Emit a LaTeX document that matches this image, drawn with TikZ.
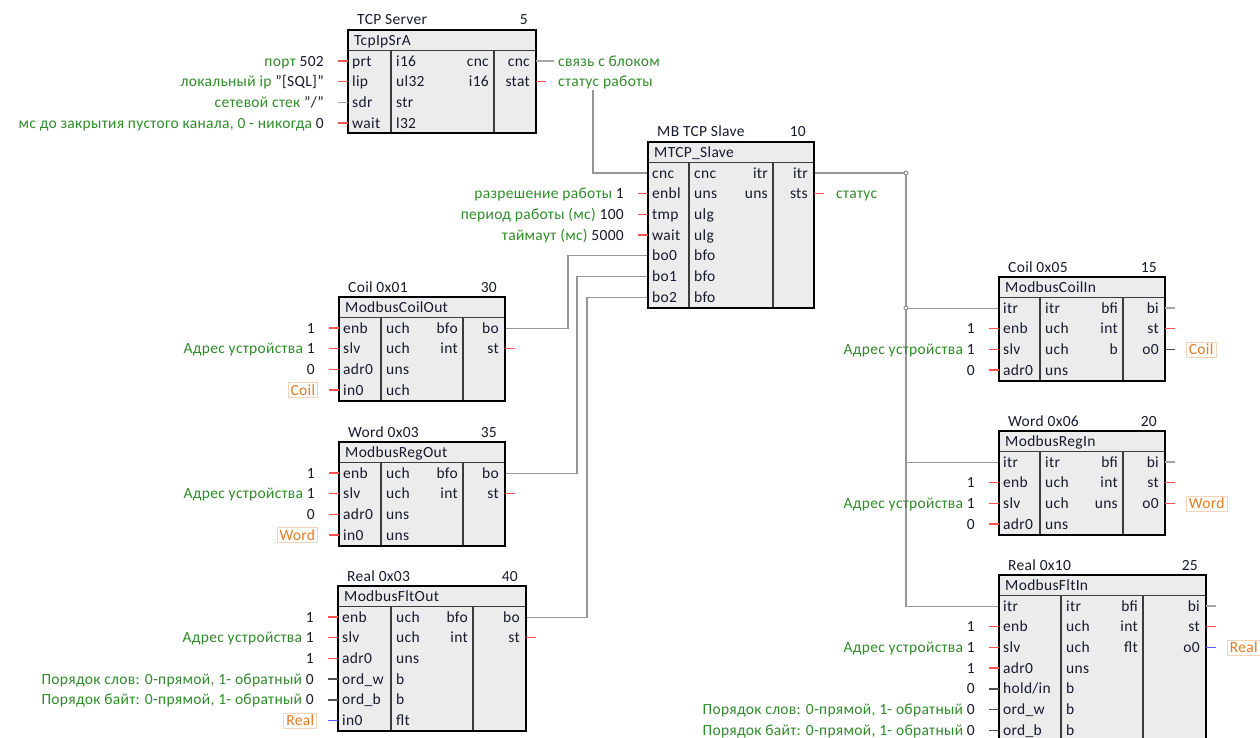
\documentclass[tikz,border=0pt]{standalone}
\usepackage{fontspec}
\setmainfont{Carlito}[LetterSpace=2]
\pgfdeclarelayer{bg}
\pgfsetlayers{bg,main}
\definecolor{lblgreen}{RGB}{46,140,40}
\definecolor{valc}{RGB}{25,25,45}
\definecolor{orng}{RGB}{226,122,32}
\definecolor{orngb}{RGB}{244,212,184}
\definecolor{stubred}{RGB}{255,80,80}
\definecolor{stubgray}{RGB}{165,165,165}
\definecolor{stubdark}{RGB}{80,80,80}
\definecolor{stubblue}{RGB}{90,90,255}
\definecolor{wirec}{RGB}{150,150,150}
\definecolor{blkbg}{RGB}{236,236,236}
\definecolor{divc}{RGB}{60,60,60}
\newcommand\gr[1]{\textcolor{lblgreen}{#1}}
% block: name, left, top, div1, div2, right, nrows
\newcommand\fbk[7]{%
  \def\bN{#1}\def\bL{#2}\def\bT{#3}\def\bA{#4}\def\bB{#5}\def\bR{#6}%
  \pgfmathsetmacro\bY{#3+20.7*(#7+1)}%
  \pgfmathsetmacro\bH{#3+20.7}%
  \fill[blkfill] (#2,#3) rectangle (#6,\bY);
  \draw[divl] (#2,\bH) -- (#6,\bH) (#4,\bH) -- (#4,\bY) (#5,\bH) -- (#5,\bY);
  \draw[blkborder] (#2,#3) rectangle (#6,\bY);
}
\newcommand\ftitle[3]{%
  \node[txt,anchor=west] (\bN-t) at (\bL+9,\bT-10) {#1};
  \node[txt,anchor=east] (\bN-n) at (\bR-8,\bT-10) {#2};
  \node[txt,anchor=west] (\bN-h) at (\bL+6,\bT+10.35) {#3};
}
\newcommand\frow[5]{%
  \pgfmathsetmacro\rY{\bT+20.7*(#1+0.5)}%
  \coordinate (\bN-i#1) at (\bL,\rY);
  \coordinate (\bN-o#1) at (\bR,\rY);
  \node[txt,anchor=west] (\bN-a#1) at (\bL+4,\rY) {#2};
  \node[txt,anchor=west] (\bN-b#1) at (\bA+5,\rY) {#3};
  \node[txt,anchor=east] (\bN-c#1) at (\bB-5,\rY) {#4};
  \node[txt,anchor=east] (\bN-d#1) at (\bR-6,\rY) {#5};
}
\newcommand\lin[3]{%
  \draw[#2] (#1) -- ([xshift=-10pt]#1);
  \node[txt,anchor=east] (#1-l) at ([xshift=-24pt]#1) {#3};
}
\newcommand\rout[3]{%
  \draw[#2] (#1) -- ([xshift=10pt]#1);
  \node[txt,anchor=west] (#1-l) at ([xshift=22pt]#1) {#3};
}
\newcommand\lobox[3]{%
  \draw[#2] (#1) -- ([xshift=-10pt]#1);
  \node[obox,anchor=east] (#1-l) at ([xshift=-21pt]#1) {#3};
}
\newcommand\robox[3]{%
  \draw[#2] (#1) -- ([xshift=10pt]#1);
  \node[obox,anchor=west] (#1-l) at ([xshift=21pt]#1) {#3};
}
\begin{document}
\begin{tikzpicture}[x=1pt,y=-1pt,
  txt/.style={font=\fontsize{15.5}{18}\selectfont, text=valc, inner sep=0pt, text height=10pt, text depth=0pt},
  obox/.style={txt, text=orng, draw=orngb, line width=0.8pt, inner xsep=2.5pt, inner ysep=2.5pt},
  blkfill/.style={fill=blkbg},
  divl/.style={draw=divc, line width=1.1pt},
  blkborder/.style={draw=black, line width=2pt},
  wire/.style={draw=wirec, line width=1.1pt},
  rst/.style={draw=stubred, line width=1.4pt},
  gst/.style={draw=stubgray, line width=1.4pt},
  dst/.style={draw=stubdark, line width=1.4pt},
  bst/.style={draw=stubblue, line width=1.4pt},
  jn/.style={draw=wirec, fill=white, line width=1pt}]
\path[use as bounding box, clip] (0,0) rectangle (1260,738);

% TCP Server
\fbk{tcp}{348}{30}{391}{494}{536}{4}
\ftitle{TCP Server}{5}{TcpIpSrA}
\frow{1}{prt}{i16}{cnc}{cnc}
\frow{2}{lip}{ul32}{i16}{stat}
\frow{3}{sdr}{str}{}{}
\frow{4}{wait}{l32}{}{}
\lin{tcp-i1}{rst}{\gr{порт} 502}
\lin{tcp-i2}{rst}{\gr{локальный ip} "[SQL]"}
\lin{tcp-i3}{gst}{\gr{сетевой стек} "/"}
\lin{tcp-i4}{rst}{\gr{мс до закрытия пустого канала, 0 - никогда} 0}
\draw[gst] (tcp-o1) -- ([xshift=18pt]tcp-o1);
\node[txt,anchor=west] (tcp-o1-l) at ([xshift=22pt]tcp-o1) {\gr{связь с блоком}};
\rout{tcp-o2}{rst}{\gr{статус работы}}

% MB TCP Slave
\fbk{mt}{648}{142}{689}{773}{814}{7}
\ftitle{MB TCP Slave}{10}{MTCP\_Slave}
\frow{1}{cnc}{cnc}{itr}{itr}
\frow{2}{enbl}{uns}{uns}{sts}
\frow{3}{tmp}{ulg}{}{}
\frow{4}{wait}{ulg}{}{}
\frow{5}{bo0}{bfo}{}{}
\frow{6}{bo1}{bfo}{}{}
\frow{7}{bo2}{bfo}{}{}
\lin{mt-i2}{rst}{\gr{разрешение работы} 1}
\lin{mt-i3}{rst}{\gr{период работы (мс)} 100}
\lin{mt-i4}{rst}{\gr{таймаут (мс)} 5000}
\rout{mt-o2}{rst}{\gr{статус}}

% ModbusCoilOut
\fbk{co}{339}{297}{381}{463}{505}{4}
\ftitle{Coil 0x01}{30}{ModbusCoilOut}
\frow{1}{enb}{uch}{bfo}{bo}
\frow{2}{slv}{uch}{int}{st}
\frow{3}{adr0}{uns}{}{}
\frow{4}{in0}{uch}{}{}
\lin{co-i1}{rst}{1}
\lin{co-i2}{rst}{\gr{Адрес устройства} 1}
\lin{co-i3}{rst}{0}
\lobox{co-i4}{rst}{Coil}
\draw[rst] (co-o2) -- ([xshift=10pt]co-o2);

% ModbusRegOut
\fbk{ro}{339}{442}{381}{463}{505}{4}
\ftitle{Word 0x03}{35}{ModbusRegOut}
\frow{1}{enb}{uch}{bfo}{bo}
\frow{2}{slv}{uch}{int}{st}
\frow{3}{adr0}{uns}{}{}
\frow{4}{in0}{uns}{}{}
\lin{ro-i1}{rst}{1}
\lin{ro-i2}{rst}{\gr{Адрес устройства} 1}
\lin{ro-i3}{rst}{0}
\lobox{ro-i4}{rst}{Word}
\draw[rst] (ro-o2) -- ([xshift=10pt]ro-o2);

% ModbusFltOut
\fbk{fo}{338}{586}{391}{473}{526}{6}
\ftitle{Real 0x03}{40}{ModbusFltOut}
\frow{1}{enb}{uch}{bfo}{bo}
\frow{2}{slv}{uch}{int}{st}
\frow{3}{adr0}{uns}{}{}
\frow{4}{ord\_w}{b}{}{}
\frow{5}{ord\_b}{b}{}{}
\frow{6}{in0}{flt}{}{}
\lin{fo-i1}{rst}{1}
\lin{fo-i2}{rst}{\gr{Адрес устройства} 1}
\lin{fo-i3}{rst}{1}
\lin{fo-i4}{dst}{\gr{Порядок слов: 0-прямой, 1- обратный} 0}
\lin{fo-i5}{dst}{\gr{Порядок байт: 0-прямой, 1- обратный} 0}
\lobox{fo-i6}{bst}{Real}
\draw[rst] (fo-o2) -- ([xshift=10pt]fo-o2);

% ModbusCoilIn
\fbk{ci}{999}{277}{1040}{1123}{1165}{4}
\ftitle{Coil 0x05}{15}{ModbusCoilIn}
\frow{1}{itr}{itr}{bfi}{bi}
\frow{2}{enb}{uch}{int}{st}
\frow{3}{slv}{uch}{b}{o0}
\frow{4}{adr0}{uns}{}{}
\lin{ci-i2}{rst}{1}
\lin{ci-i3}{rst}{\gr{Адрес устройства} 1}
\lin{ci-i4}{rst}{0}
\draw[gst] (ci-o1) -- ([xshift=10pt]ci-o1);
\draw[rst] (ci-o2) -- ([xshift=10pt]ci-o2);
\robox{ci-o3}{dst}{Coil}

% ModbusRegIn
\fbk{ri}{999}{431}{1040}{1123}{1165}{4}
\ftitle{Word 0x06}{20}{ModbusRegIn}
\frow{1}{itr}{itr}{bfi}{bi}
\frow{2}{enb}{uch}{int}{st}
\frow{3}{slv}{uch}{uns}{o0}
\frow{4}{adr0}{uns}{}{}
\lin{ri-i2}{rst}{1}
\lin{ri-i3}{rst}{\gr{Адрес устройства} 1}
\lin{ri-i4}{rst}{0}
\draw[gst] (ri-o1) -- ([xshift=10pt]ri-o1);
\draw[rst] (ri-o2) -- ([xshift=10pt]ri-o2);
\robox{ri-o3}{rst}{Word}

% ModbusFltIn
\fbk{fi}{999}{575}{1061}{1143}{1206}{8}
\ftitle{Real 0x10}{25}{ModbusFltIn}
\frow{1}{itr}{itr}{bfi}{bi}
\frow{2}{enb}{uch}{int}{st}
\frow{3}{slv}{uch}{flt}{o0}
\frow{4}{adr0}{uns}{}{}
\frow{5}{hold/in}{b}{}{}
\frow{6}{ord\_w}{b}{}{}
\frow{7}{ord\_b}{b}{}{}
\lin{fi-i2}{rst}{1}
\lin{fi-i3}{rst}{\gr{Адрес устройства} 1}
\lin{fi-i4}{rst}{1}
\lin{fi-i5}{dst}{0}
\lin{fi-i6}{dst}{\gr{Порядок слов: 0-прямой, 1- обратный} 0}
\lin{fi-i7}{dst}{\gr{Порядок байт: 0-прямой, 1- обратный} 0}
\draw[gst] (fi-o1) -- ([xshift=10pt]fi-o1);
\draw[rst] (fi-o2) -- ([xshift=10pt]fi-o2);
\robox{fi-o3}{bst}{Real}

% wires
\begin{pgfonlayer}{bg}
\fill[white] (0,0) rectangle (1260,738);
\coordinate (vtop) at (593,90);
\draw[wire] (vtop) |- (mt-i1);
\draw[wire] (co-o1) -- ++(63,0) |- (mt-i5);
\draw[wire] (ro-o1) -- ++(72,0) |- (mt-i6);
\draw[wire] (fo-o1) -- ++(61,0) |- (mt-i7);
\coordinate (j1) at ([xshift=92pt]mt-o1);
\coordinate (j2) at (j1 |- ci-i1);
\coordinate (j3) at (j1 |- ri-i1);
\draw[wire] (mt-o1) -- (j1) |- (fi-i1);
\draw[wire] (j2) -- (ci-i1);
\draw[wire] (j3) -- (ri-i1);
\end{pgfonlayer}
\draw[jn] (j1) circle (2pt);
\draw[jn] (j2) circle (2pt);
\end{tikzpicture}
\end{document}
